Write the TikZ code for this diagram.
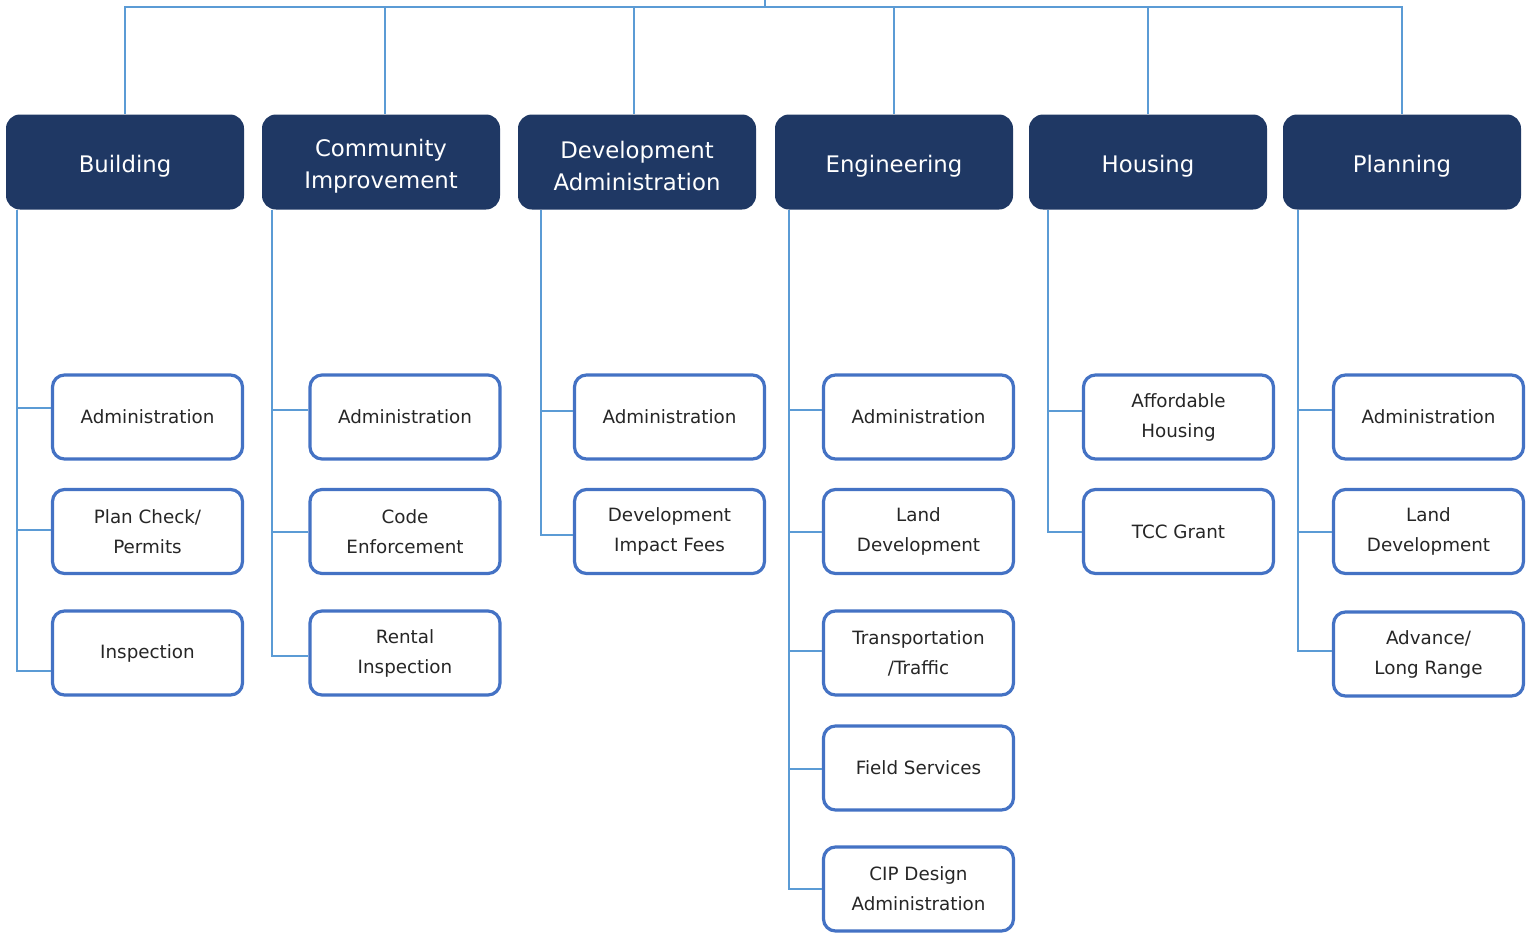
\documentclass[tikz,border=0pt]{standalone}
\usepackage{fontspec}
\setmainfont{DejaVu Sans}
\usepackage{xcolor}
\usepackage{tikz}
\usetikzlibrary{calc}
\definecolor{navy}{HTML}{1F3864}
\definecolor{boxblue}{HTML}{4472C4}
\definecolor{linkblue}{HTML}{5B9BD5}
\definecolor{inktext}{HTML}{262626}
\tikzset{
  dept/.style={rectangle, rounded corners=14pt, fill=navy, draw=none,
    minimum width=238pt, minimum height=95pt, inner sep=0pt},
  depttext/.style={text=white, align=center, inner sep=0pt, yshift=-4pt,
    font=\fontsize{22.8}{32}\selectfont},
  unit/.style={rectangle, rounded corners=12pt, draw=boxblue, fill=white, line width=3.2pt,
    text=inktext, minimum width=190pt, minimum height=84pt, align=center, inner sep=2pt,
    font=\fontsize{18.3}{30}\selectfont},
  orgline/.style={draw=linkblue, line width=2pt},
}

\begin{document}
\begin{tikzpicture}[x=1pt,y=-1pt]
\useasboundingbox (0,0) rectangle (1535,937);
% departments
\node[dept, label={[depttext]center:Building}] (bld) at (125,162) {};
\node[dept, label={[depttext]center:Community\\Improvement}] (ci) at (381,162) {};
\node[dept, label={[depttext]center:Development\\Administration}] (da) at (637,162) {};
\node[dept, label={[depttext]center:Engineering}] (eng) at (894,162) {};
\node[dept, label={[depttext]center:Housing}] (hsg) at (1148,162) {};
\node[dept, label={[depttext]center:Planning}] (pln) at (1402,162) {};
% units
\node[unit] (bld1) at (147.5,417) {Administration};
\node[unit] (bld2) at (147.5,531.5) {Plan Check/\\Permits};
\node[unit] (bld3) at (147.5,653) {Inspection};
\node[unit] (ci1) at (405,417) {Administration};
\node[unit] (ci2) at (405,531.5) {Code\\Enforcement};
\node[unit] (ci3) at (405,653) {Rental\\Inspection};
\node[unit] (da1) at (669.5,417) {Administration};
\node[unit] (da2) at (669.5,531.5) {Development\\Impact Fees};
\node[unit] (eng1) at (918.5,417) {Administration};
\node[unit] (eng2) at (918.5,531.5) {Land\\Development};
\node[unit] (eng3) at (918.5,653) {Transportation\\/Traffic};
\node[unit] (eng4) at (918.5,768) {Field Services};
\node[unit] (eng5) at (918.5,889) {CIP Design\\Administration};
\node[unit] (hsg1) at (1178.5,417) {Affordable\\Housing};
\node[unit] (hsg2) at (1178.5,531.5) {TCC Grant};
\node[unit] (pln1) at (1428.5,417) {Administration};
\node[unit] (pln2) at (1428.5,531.5) {Land\\Development};
\node[unit] (pln3) at (1428.5,654) {Advance/\\Long Range};
% top bar
\coordinate (root) at (765,0);
\coordinate (bar) at (765,7);
\draw[orgline] (root) -- (bar);
\draw[orgline] (bar) -| (bld.north);
\draw[orgline] (bar) -| ([xshift=4pt]ci.north);
\draw[orgline] (bar) -| ([xshift=-3pt]da.north);
\draw[orgline] (bar) -| (eng.north);
\draw[orgline] (bar) -| (hsg.north);
\draw[orgline] (bar) -| (pln.north);
% spines
\coordinate (bldS) at ([xshift=11pt]bld.south west);
\coordinate (ciS) at ([xshift=10pt]ci.south west);
\coordinate (daS) at ([xshift=23pt]da.south west);
\coordinate (engS) at ([xshift=14pt]eng.south west);
\coordinate (hsgS) at ([xshift=19pt]hsg.south west);
\coordinate (plnS) at ([xshift=15pt]pln.south west);
\draw[orgline] (bldS) |- ([yshift=9pt]bld1.west);
\draw[orgline] (bldS) |- ([yshift=1.5pt]bld2.west);
\draw[orgline] (bldS) |- ([yshift=-18pt]bld3.west);
\draw[orgline] (ciS) |- ([yshift=7pt]ci1.west);
\draw[orgline] (ciS) |- (ci2.west);
\draw[orgline] (ciS) |- ([yshift=-3pt]ci3.west);
\draw[orgline] (daS) |- ([yshift=6pt]da1.west);
\draw[orgline] (daS) |- ([yshift=-3.5pt]da2.west);
\draw[orgline] (engS) |- ([yshift=7pt]eng1.west);
\draw[orgline] (engS) |- (eng2.west);
\draw[orgline] (engS) |- ([yshift=2pt]eng3.west);
\draw[orgline] (engS) |- ([yshift=-1pt]eng4.west);
\draw[orgline] (engS) |- (eng5.west);
\draw[orgline] (hsgS) |- ([yshift=6pt]hsg1.west);
\draw[orgline] (hsgS) |- (hsg2.west);
\draw[orgline] (plnS) |- ([yshift=7pt]pln1.west);
\draw[orgline] (plnS) |- (pln2.west);
\draw[orgline] (plnS) |- ([yshift=3pt]pln3.west);
\end{tikzpicture}
\end{document}
